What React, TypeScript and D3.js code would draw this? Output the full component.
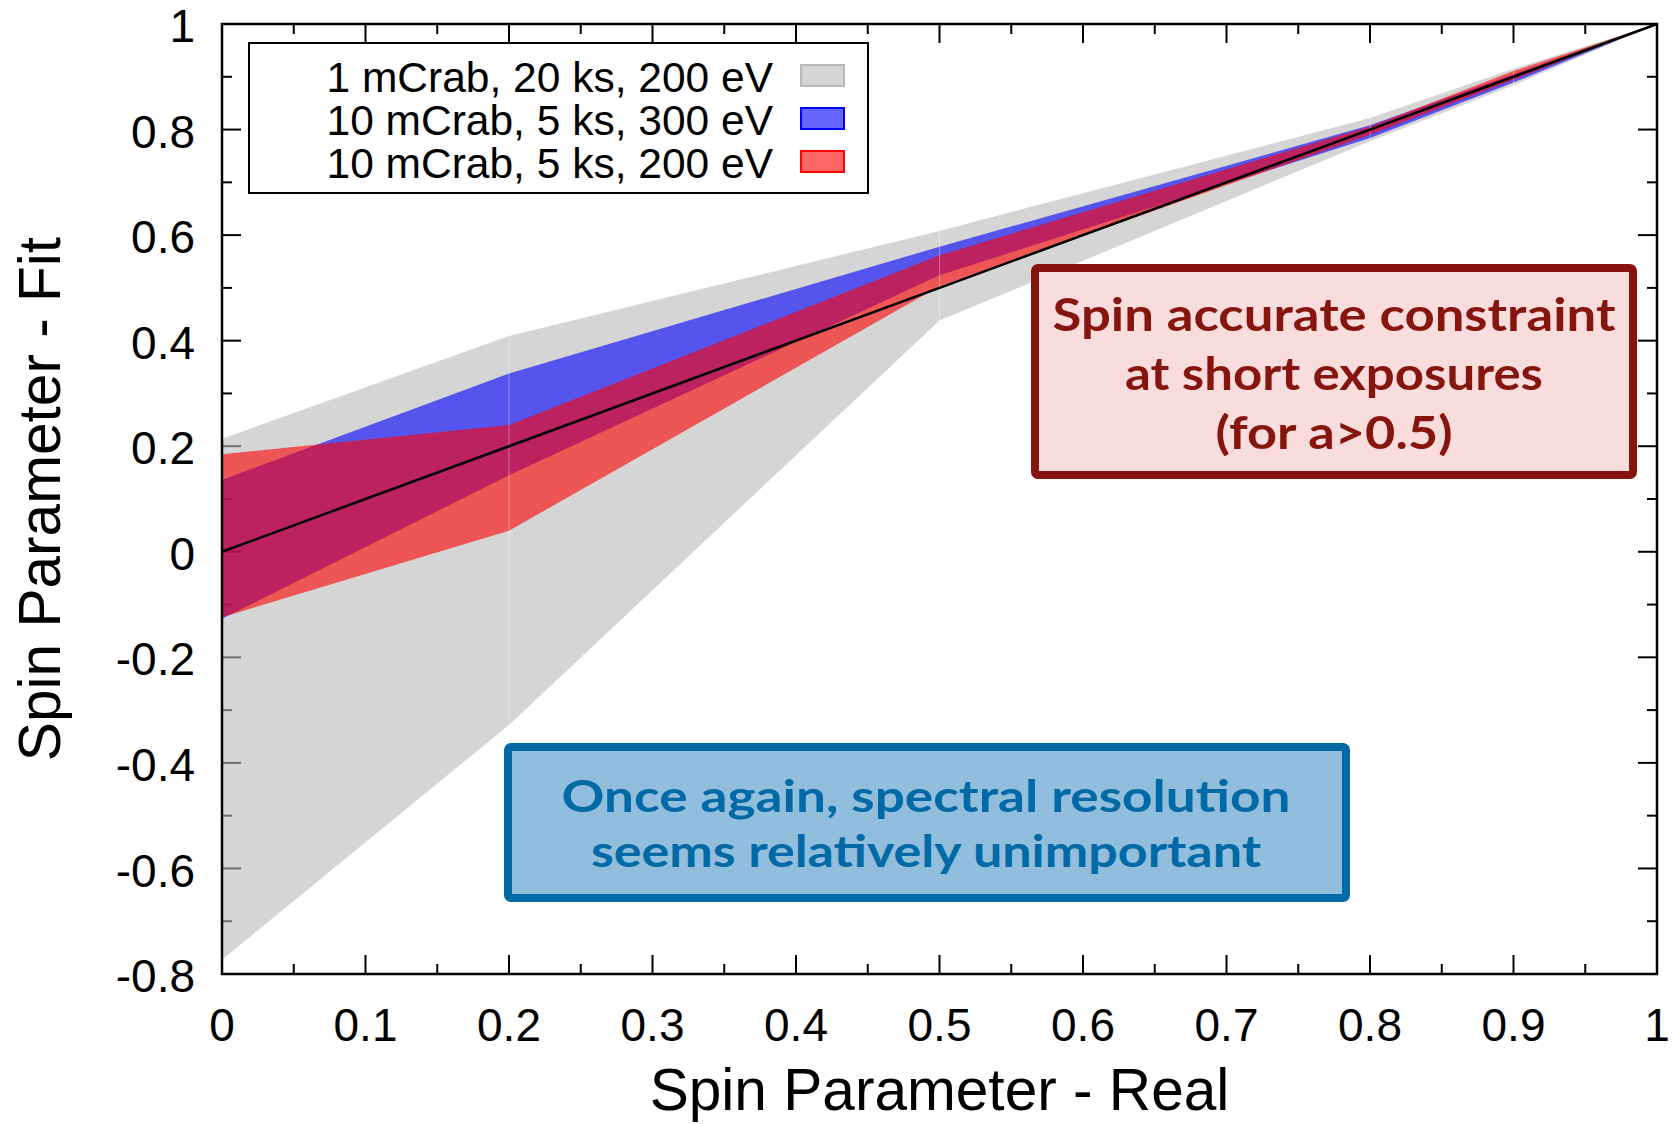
import React from 'react';
import * as d3 from 'd3';

// Real spin values at which the fits were run
const spinReal = [0, 0.2, 0.5, 0.8, 0.9, 1.0];

// Fitted-spin confidence bands (lower / upper) for each configuration
const grayLow = [-0.773, -0.328, 0.438, 0.778, 0.884, 1.0];
const grayHigh = [0.214, 0.409, 0.608, 0.822, 0.915, 1.0];
const blueLow = [-0.127, 0.145, 0.524, 0.784, 0.889, 1.0];
const blueHigh = [0.136, 0.338, 0.578, 0.808, 0.905, 1.0];
const redLow = [-0.124, 0.04, 0.503, 0.79, 0.894, 1.0];
const redHigh = [0.185, 0.24, 0.562, 0.806, 0.911, 1.0];

// One-to-one reference line
const identity = [0, 0.2, 0.5, 0.8, 0.9, 1.0];

const seriesLabels = [
  '1 mCrab, 20 ks, 200 eV',
  '10 mCrab, 5 ks, 300 eV',
  '10 mCrab, 5 ks, 200 eV',
];
const seriesColors = ['rgb(185,185,185)', '#0000ff', '#ff0000'];

const xTicks = [0, 0.1, 0.2, 0.3, 0.4, 0.5, 0.6, 0.7, 0.8, 0.9, 1];
const xTickLabels = ['0', '0.1', '0.2', '0.3', '0.4', '0.5', '0.6', '0.7', '0.8', '0.9', '1'];
const xMinorTicks = [0.05, 0.15, 0.25, 0.35, 0.45, 0.55, 0.65, 0.75, 0.85, 0.95];
const yTicks = [-0.8, -0.6, -0.4, -0.2, 0, 0.2, 0.4, 0.6, 0.8, 1];
const yTickLabels = ['-0.8', '-0.6', '-0.4', '-0.2', '0', '0.2', '0.4', '0.6', '0.8', '1'];
const yMinorTicks = [-0.7, -0.5, -0.3, -0.1, 0.1, 0.3, 0.5, 0.7, 0.9];

const redNote = ['Spin accurate constraint', 'at short exposures', '(for a>0.5)'];
const blueNote = ['Once again, spectral resolution', 'seems relatively unimportant'];

const W = 1676;
const H = 1124;
const L = 222;
const R = 1657;
const T = 24;
const B = 974;

const FILL_ALPHA = 0.6;

export default function App() {
  const x = d3.scaleLinear().domain([0, 1]).range([L, R]);
  const y = d3.scaleLinear().domain([-0.8, 1]).range([B, T]);

  const band = (lo: number[], hi: number[]) =>
    d3
      .area<number>()
      .x((_, i) => x(spinReal[i]))
      .y0((_, i) => y(lo[i]))
      .y1((_, i) => y(hi[i]))(spinReal) as string;

  const line = d3
    .line<number>()
    .x((_, i) => x(spinReal[i]))
    .y((d) => y(d))(identity) as string;

  const bands = [
    { d: band(grayLow, grayHigh), color: seriesColors[0] },
    { d: band(blueLow, blueHigh), color: seriesColors[1] },
    { d: band(redLow, redHigh), color: seriesColors[2] },
  ];

  const majorLen = 19;
  const minorLen = 10;
  const tickFont = 'Liberation Sans, Arial, Helvetica, sans-serif';
  const noteFont = 'Lato, "Open Sans", sans-serif';

  return (
    <svg
      width={W}
      height={H}
      viewBox={`0 0 ${W} ${H}`}
      style={{ position: 'absolute', left: 0, top: 0, background: '#fff' }}
    >
      <rect x={0} y={0} width={W} height={H} fill="#fff" />

      {/* ticks on all four sides, drawn under the bands */}
      <g stroke="#000" strokeWidth={2}>
        {xTicks.map((t) => (
          <g key={'xt' + t}>
            <line x1={x(t)} x2={x(t)} y1={B} y2={B - majorLen} />
            <line x1={x(t)} x2={x(t)} y1={T} y2={T + majorLen} />
          </g>
        ))}
        {xMinorTicks.map((t) => (
          <g key={'xm' + t}>
            <line x1={x(t)} x2={x(t)} y1={B} y2={B - minorLen} />
            <line x1={x(t)} x2={x(t)} y1={T} y2={T + minorLen} />
          </g>
        ))}
        {yTicks.map((t) => (
          <g key={'yt' + t}>
            <line x1={L} x2={L + majorLen} y1={y(t)} y2={y(t)} />
            <line x1={R} x2={R - majorLen} y1={y(t)} y2={y(t)} />
          </g>
        ))}
        {yMinorTicks.map((t) => (
          <g key={'ym' + t}>
            <line x1={L} x2={L + minorLen} y1={y(t)} y2={y(t)} />
            <line x1={R} x2={R - minorLen} y1={y(t)} y2={y(t)} />
          </g>
        ))}
      </g>

      {/* confidence bands */}
      {bands.map((b, i) => (
        <path key={'band' + i} d={b.d} fill={b.color} fillOpacity={FILL_ALPHA} stroke="none" />
      ))}

      {/* faint polygon seams at interior sample points */}
      <g stroke="#fff" strokeOpacity={0.35} strokeWidth={1}>
        {spinReal.slice(1, -1).map((s, k) => (
          <line
            key={'seam' + s}
            x1={x(s)}
            x2={x(s)}
            y1={y(grayLow[k + 1])}
            y2={y(grayHigh[k + 1])}
          />
        ))}
      </g>

      {/* identity line */}
      <path d={line} fill="none" stroke="#000" strokeWidth={2.5} />

      {/* frame */}
      <rect x={L} y={T} width={R - L} height={B - T} fill="none" stroke="#000" strokeWidth={2.5} />

      {/* tick labels */}
      <g fontFamily={tickFont} fontSize={46} fill="#000">
        {xTicks.map((t, i) => (
          <text key={'xl' + t} x={x(t)} y={1041} textAnchor="middle">
            {xTickLabels[i]}
          </text>
        ))}
        {yTicks.map((t, i) => (
          <text key={'yl' + t} x={195} y={y(t) + 2} dy="0.35em" textAnchor="end">
            {yTickLabels[i]}
          </text>
        ))}
      </g>

      {/* axis titles */}
      <text
        x={(L + R) / 2}
        y={1110}
        textAnchor="middle"
        fontFamily={tickFont}
        fontSize={58.6}
        fill="#000"
      >
        Spin Parameter - Real
      </text>
      <text
        transform={`translate(60, 499) rotate(-90)`}
        textAnchor="middle"
        fontFamily={tickFont}
        fontSize={58.6}
        fill="#000"
      >
        Spin Parameter - Fit
      </text>

      {/* legend */}
      <rect x={249} y={43} width={619} height={150} fill="#fff" stroke="#000" strokeWidth={2} />
      {seriesLabels.map((lab, i) => (
        <g key={'leg' + i}>
          <text
            x={773}
            y={92 + i * 43}
            textAnchor="end"
            fontFamily={tickFont}
            fontSize={42.5}
            fill="#000"
          >
            {lab}
          </text>
          <rect
            x={801}
            y={65 + i * 43}
            width={43}
            height={21}
            fill={seriesColors[i]}
            fillOpacity={FILL_ALPHA}
            stroke={seriesColors[i]}
            strokeWidth={2}
          />
        </g>
      ))}

      {/* annotation: constraint at short exposures */}
      <rect
        x={1035}
        y={268}
        width={598}
        height={207}
        rx={3}
        fill="#f9dddc"
        stroke="#87150f"
        strokeWidth={8}
      />
      {redNote.map((s, i) => (
        <text
          key={'rn' + i}
          x={1334}
          y={331 + i * 59}
          textAnchor="middle"
          fontFamily={noteFont}
          fontWeight={700}
          fontSize={46}
          fill="#87150f"
          textLength={[563, 418, 237][i]}
          lengthAdjust="spacingAndGlyphs"
        >
          {s}
        </text>
      ))}

      {/* annotation: spectral resolution */}
      <rect
        x={508}
        y={747}
        width={838}
        height={151}
        rx={3}
        fill="#90bedc"
        stroke="#0069a6"
        strokeWidth={8}
      />
      {blueNote.map((s, i) => (
        <text
          key={'bn' + i}
          x={926}
          y={812 + i * 55}
          textAnchor="middle"
          fontFamily={noteFont}
          fontWeight={700}
          fontSize={44}
          fill="#0069a6"
          textLength={[729, 670][i]}
          lengthAdjust="spacingAndGlyphs"
        >
          {s}
        </text>
      ))}
    </svg>
  );
}
